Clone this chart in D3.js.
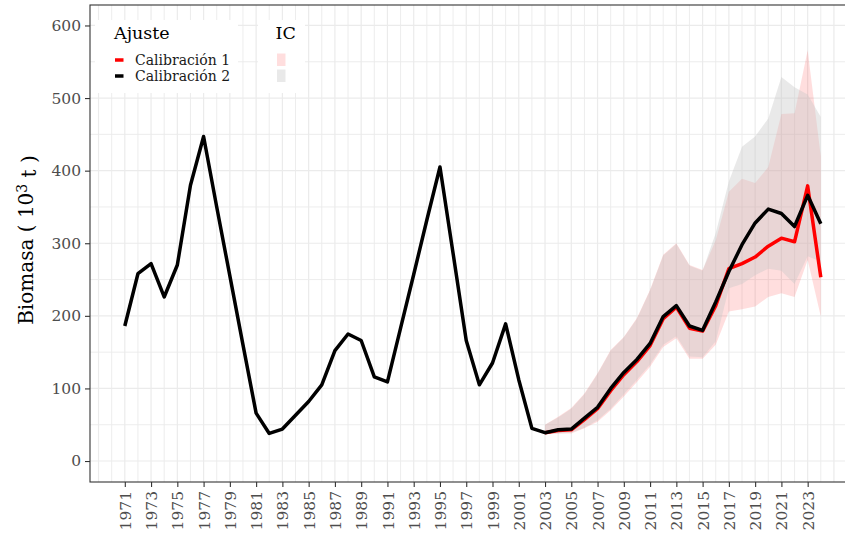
<!DOCTYPE html>
<html>
<head>
<meta charset="utf-8">
<script src="https://cdn.jsdelivr.net/npm/d3@7"></script>
<style>
  body { margin: 0; background: #fff; }
  svg { display: block; font-family: "DejaVu Serif", serif; }
</style>
</head>
<body>
<div id="chart"></div>
<script>
// data
const years = d3.range(1971, 2025);
const cal2 = [186, 258, 272, 226, 270, 380, 447, 350, 255, 160, 66, 38, 44, 63, 82, 105, 152, 175, 166, 116,
  109, 183, 257, 332, 405, 286, 166, 105, 135, 189, 112, 45, 39, 43, 44, 59, 74, 100, 122, 140,
  162, 199, 214, 186, 180, 219, 261, 298, 328, 347, 341, 323, 366, 327];

const icYears = d3.range(2003, 2025);
const cal1 = [39, 42, 43, 57, 72, 97, 119, 137, 159, 196, 212, 183, 179, 214, 265, 272, 281, 296, 307, 302, 379, 253];
const cal1Lo = [37, 38, 38, 45, 54, 70, 89, 109, 130, 157, 169, 141, 141, 160, 206, 209, 213, 226, 231, 226, 277, 199];
const cal1Hi = [50, 61, 73, 93, 121, 153, 171, 197, 236, 284, 300, 270, 263, 304, 371, 389, 383, 405, 478, 479, 566, 420];
const cal2Lo = [37, 38, 39, 46, 56, 72, 92, 112, 133, 160, 172, 144, 143, 165, 238, 244, 256, 265, 262, 244, 282, 275];
const cal2Hi = [50, 60, 72, 92, 120, 152, 170, 196, 235, 283, 299, 269, 262, 314, 385, 433, 447, 472, 529, 515, 505, 474];

const seriesNames = ["Calibración 1", "Calibración 2"];
const yTicks = [0, 100, 200, 300, 400, 500, 600];
const xTicks = d3.range(1971, 2024, 2);

const W = 845, H = 535;
const lineCol = ["#ff0000", "#000000"];
const ribbonCol = ["#ff0000", "#c9c9c9"];
const ribbonAlpha = [0.13, 0.4];
const txtGrey = "#4d4d4d";

const svg = d3.select("#chart").append("svg")
  .attr("width", W).attr("height", H);

svg.append("rect").attr("width", W).attr("height", H).attr("fill", "#fff");

const x = d3.scaleLinear().domain([1968.35, 2026.65]).range([90, 855.6]);
const y = d3.scaleLinear().domain([-28.9, 628.2]).range([482, 5]);

// grid
const grid = svg.append("g").attr("stroke", "#ebebeb");
grid.selectAll(".vg").data(d3.range(1969, 2027)).enter().append("line")
  .attr("x1", d => x(d)).attr("x2", d => x(d))
  .attr("y1", 5).attr("y2", 482)
  .attr("stroke-width", d => d % 2 ? 1.2 : 0.9);
grid.selectAll(".hg").data(d3.range(0, 601, 50)).enter().append("line")
  .attr("x1", 90).attr("x2", W)
  .attr("y1", d => y(d)).attr("y2", d => y(d))
  .attr("stroke-width", d => d % 100 ? 0.9 : 1.2);

// ribbons
const area = (lo, hi) => d3.area()
  .x((d, i) => x(icYears[i]))
  .y0((d, i) => y(lo[i]))
  .y1((d, i) => y(hi[i]));

svg.append("path").datum(icYears)
  .attr("d", area(cal1Lo, cal1Hi))
  .attr("fill", ribbonCol[0]).attr("fill-opacity", ribbonAlpha[0]);
svg.append("path").datum(icYears)
  .attr("d", area(cal2Lo, cal2Hi))
  .attr("fill", ribbonCol[1]).attr("fill-opacity", ribbonAlpha[1]);

// lines
const line = d3.line().x(d => x(d[0])).y(d => y(d[1]));
svg.append("path").datum(icYears.map((yr, i) => [yr, cal1[i]]))
  .attr("d", line).attr("fill", "none")
  .attr("stroke", lineCol[0]).attr("stroke-width", 3.5).attr("stroke-linejoin", "round");
svg.append("path").datum(years.map((yr, i) => [yr, cal2[i]]))
  .attr("d", line).attr("fill", "none")
  .attr("stroke", lineCol[1]).attr("stroke-width", 3.5).attr("stroke-linejoin", "round");

// panel border
svg.append("rect").attr("x", 90).attr("y", 5).attr("width", 765.6).attr("height", 477)
  .attr("fill", "none").attr("stroke", "#333").attr("stroke-width", 1.1);

// axes
const yAxis = svg.append("g").attr("transform", "translate(90,0)")
  .call(d3.axisLeft(y).tickValues(yTicks).tickSize(5).tickPadding(4));
yAxis.select(".domain").remove();
yAxis.selectAll("line").attr("stroke", "#333").attr("stroke-width", 1.1);
yAxis.selectAll("text").attr("fill", txtGrey)
  .style("font-family", "DejaVu Serif").style("font-size", "15.5px");

const xAxis = svg.append("g").attr("transform", "translate(0,482)")
  .call(d3.axisBottom(x).tickValues(xTicks).tickFormat(d3.format("d")).tickSize(5));
xAxis.select(".domain").remove();
xAxis.selectAll("line").attr("stroke", "#333").attr("stroke-width", 1.1);
xAxis.selectAll("text").attr("fill", txtGrey)
  .style("font-family", "DejaVu Serif").style("font-size", "15.5px")
  .attr("transform", "rotate(-90)")
  .attr("text-anchor", "end")
  .attr("x", -9).attr("y", 0).attr("dy", "0.36em");

// y title
const yt = svg.append("text")
  .attr("transform", "translate(33,240) rotate(-90)")
  .attr("text-anchor", "middle")
  .style("font-size", "20px").attr("fill", "#000");
yt.append("tspan").text("Biomasa ( 10");
yt.append("tspan").text("3").attr("dy", "-0.45em").style("font-size", "14px");
yt.append("tspan").text(" t )").attr("dy", "0.45em");

// legends
svg.append("rect").attr("x", 95).attr("y", 20).attr("width", 143).attr("height", 73).attr("fill", "#fff");
svg.append("rect").attr("x", 258).attr("y", 20).attr("width", 47).attr("height", 73).attr("fill", "#fff");

svg.append("text").attr("x", 114).attr("y", 39).text("Ajuste")
  .style("font-size", "17.5px").attr("fill", "#000");
svg.append("text").attr("x", 275.5).attr("y", 39).text("IC")
  .style("font-size", "17.5px").attr("fill", "#000");

seriesNames.forEach((name, i) => {
  const cy = 60 + i * 16;
  svg.append("line").attr("x1", 115).attr("x2", 123.5).attr("y1", cy).attr("y2", cy)
    .attr("stroke", lineCol[i]).attr("stroke-width", 3.5);
  svg.append("text").attr("x", 135).attr("y", cy + 5).text(name)
    .style("font-size", "14px").attr("fill", "#1a1a1a");
  svg.append("rect").attr("x", 277).attr("y", cy - 6.5).attr("width", 8.5).attr("height", 12.5)
    .attr("fill", ribbonCol[i]).attr("fill-opacity", ribbonAlpha[i]);
});
</script>
</body>
</html>
